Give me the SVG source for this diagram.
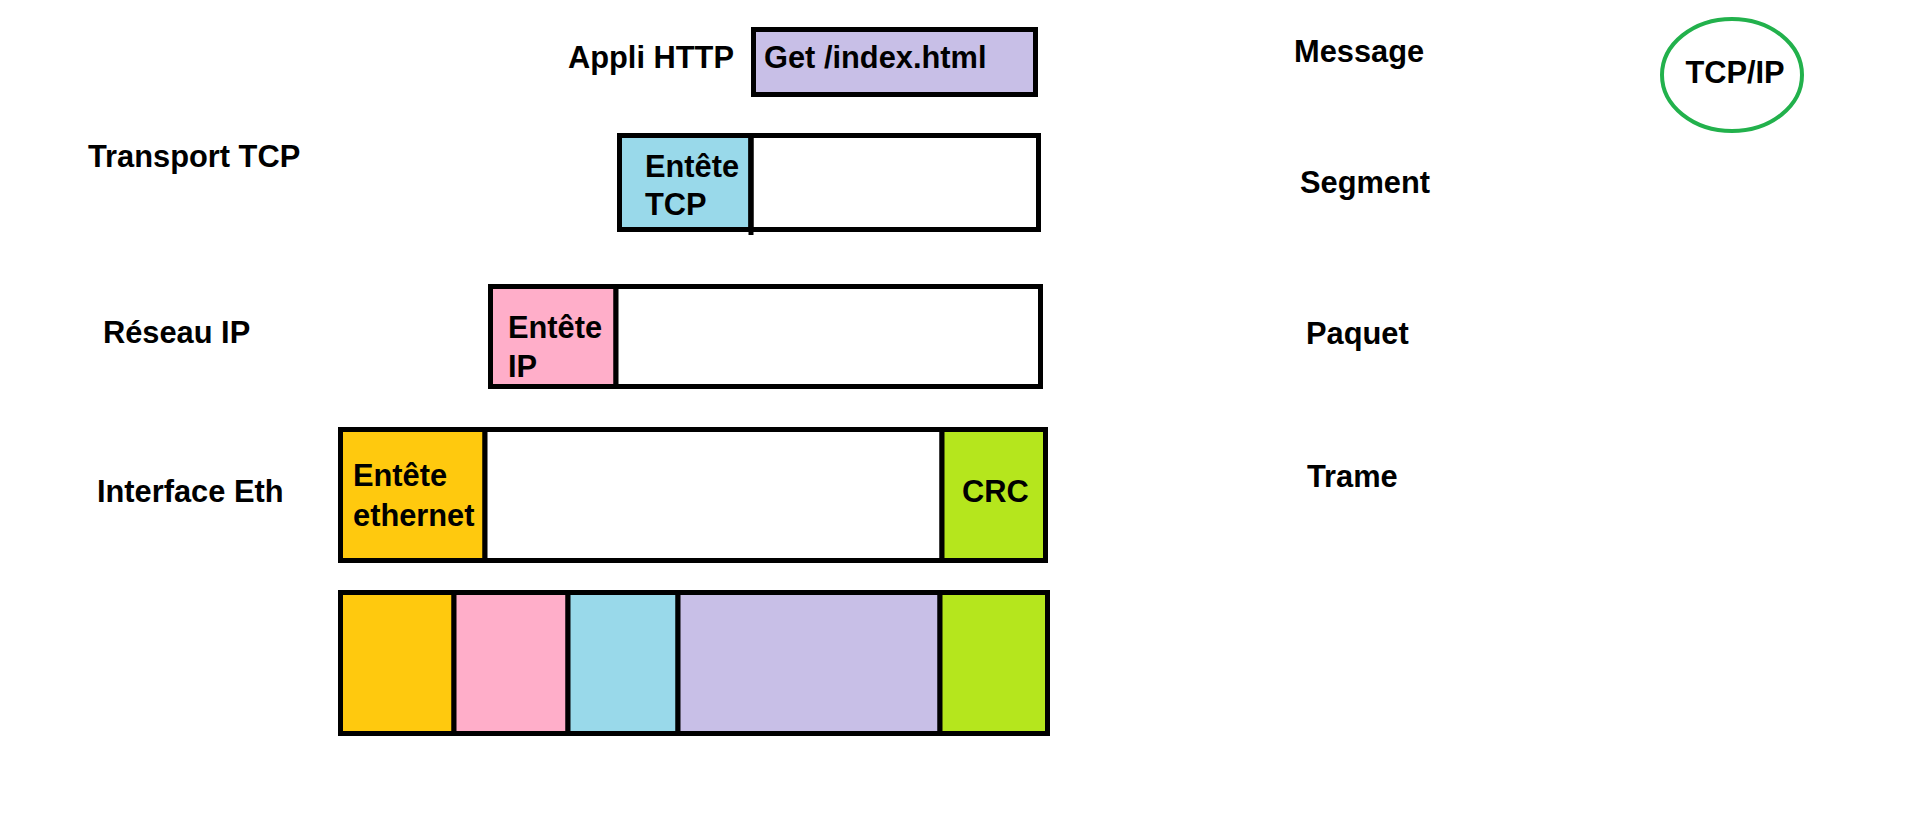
<svg xmlns="http://www.w3.org/2000/svg" width="1914" height="828" viewBox="0 0 1914 828">
<style>
text{font-family:"Liberation Sans",Arial,sans-serif;font-weight:bold;font-size:30.8px;fill:#000}
.b{stroke:#000;stroke-width:5}
.w{fill:#fff}.o{fill:#ffc90e}.p{fill:#ffaec9}.c{fill:#99d9ea}.v{fill:#c8bfe7}.g{fill:#b5e61d}
</style>
<rect width="1914" height="828" fill="#fff"/>
<g id="labels-left">
<text x="568" y="68">Appli HTTP</text>
<text x="88" y="167">Transport TCP</text>
<text x="103" y="343">Réseau IP</text>
<text x="97" y="502">Interface Eth</text>
</g>
<g id="labels-right">
<text x="1294" y="62">Message</text>
<text x="1300" y="193">Segment</text>
<text x="1306" y="344">Paquet</text>
<text x="1307" y="487">Trame</text>
</g>
<g id="tcpip">
<ellipse cx="1732" cy="75" rx="70" ry="56" fill="none" stroke="#22b14c" stroke-width="4"/>
<text x="1735" y="83" text-anchor="middle">TCP/IP</text>
</g>
<g id="message">
<rect class="b v" x="753.5" y="29.5" width="282" height="65"/>
<text x="764" y="68">Get /index.html</text>
</g>
<g id="segment">
<rect class="b c" x="619.5" y="135.5" width="131.5" height="94"/>
<rect class="b w" x="751" y="135.5" width="287.5" height="94"/>
<line class="b" x1="751" y1="133" x2="751" y2="235"/>
<text x="645" y="177">Entête</text>
<text x="645" y="215">TCP</text>
</g>
<g id="paquet">
<rect class="b p" x="490.5" y="286.5" width="125.5" height="100"/>
<rect class="b w" x="616" y="286.5" width="424.5" height="100"/>
<text x="508" y="338">Entête</text>
<text x="508" y="377">IP</text>
</g>
<g id="trame">
<rect class="b o" x="340.5" y="429.5" width="144.5" height="131"/>
<rect class="b w" x="485" y="429.5" width="457" height="131"/>
<rect class="b g" x="942" y="429.5" width="103.5" height="131"/>
<text x="353" y="486">Entête</text>
<text x="353" y="526">ethernet</text>
<text x="962" y="502">CRC</text>
</g>
<g id="bits">
<rect class="b o" x="340.5" y="592.5" width="113.5" height="141"/>
<rect class="b p" x="454" y="592.5" width="114" height="141"/>
<rect class="b c" x="568" y="592.5" width="110" height="141"/>
<rect class="b v" x="678" y="592.5" width="262" height="141"/>
<rect class="b g" x="940" y="592.5" width="107.5" height="141"/>
</g>
<g id="connectors"></g>
</svg>
